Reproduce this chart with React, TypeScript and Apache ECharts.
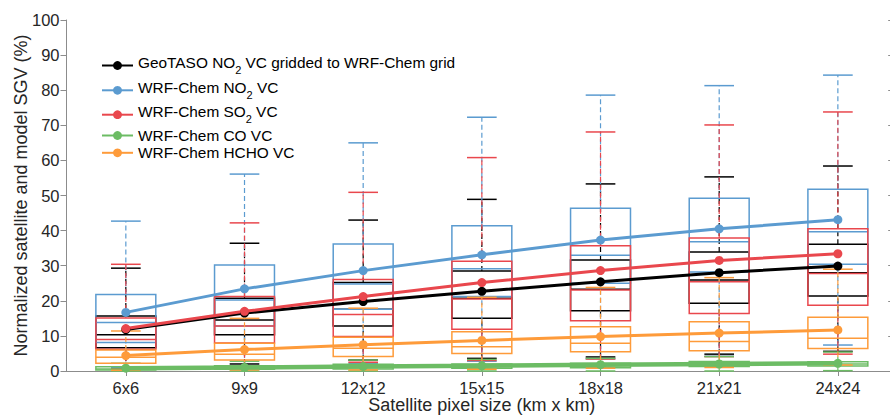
import { useEffect, useRef } from 'react';
import * as echarts from 'echarts';

const categories = ['6x6', '9x9', '12x12', '15x15', '18x18', '21x21', '24x24'];

// GeoTASO NO2 (black)
const geoLow = [0.5, 2.0, 3.1, 3.6, 4.0, 4.8, 5.6];
const geoQ1 = [6.6, 10.3, 12.8, 15.0, 17.2, 19.3, 21.4];
const geoMed = [10.3, 14.5, 17.6, 20.7, 23.3, 25.9, 28.0];
const geoQ3 = [15.7, 20.7, 25.2, 28.5, 31.6, 33.9, 36.1];
const geoHigh = [29.3, 36.4, 43.0, 48.9, 53.3, 55.3, 58.4];
const geoMean = [11.8, 16.5, 19.8, 22.7, 25.4, 28.0, 29.9];

// WRF-Chem NO2 (blue)
const no2Low = [1.0, 1.5, 2.2, 2.8, 3.5, 4.2, 7.4];
const no2Q1 = [8.1, 12.8, 17.6, 21.2, 25.0, 28.2, 30.4];
const no2Med = [13.8, 20.2, 24.8, 29.1, 33.0, 36.8, 39.7];
const no2Q3 = [21.8, 30.2, 36.2, 41.4, 46.4, 49.2, 51.8];
const no2High = [42.7, 56.1, 65.0, 72.3, 78.6, 81.3, 84.3];
const no2Mean = [16.7, 23.4, 28.6, 33.1, 37.3, 40.5, 43.1];

// WRF-Chem SO2 (red)
const so2Low = [0.6, 1.5, 2.5, 3.0, 3.4, 4.1, 4.8];
const so2Q1 = [6.2, 8.0, 9.8, 11.9, 14.3, 16.4, 18.7];
const so2Med = [9.0, 12.8, 16.1, 20.5, 23.1, 25.4, 27.8];
const so2Q3 = [15.1, 21.2, 26.1, 31.3, 35.7, 37.9, 40.5];
const so2High = [30.4, 42.2, 50.9, 60.8, 68.1, 70.1, 73.8];
const so2Mean = [12.1, 17.0, 21.2, 25.2, 28.6, 31.5, 33.4];

// WRF-Chem CO (green)
const coLow = [0, 0, 0, 0, 0, 0, 0.1];
const coQ1 = [0.3, 0.5, 0.6, 0.8, 0.9, 1.3, 1.4];
const coMed = [0.6, 0.9, 1.1, 1.3, 1.6, 1.9, 2.0];
const coQ3 = [1.2, 1.5, 1.9, 2.0, 2.2, 2.7, 2.6];
const coHigh = [2.2, 2.8, 3.1, 3.3, 3.6, 4.1, 5.4];
const coMean = [0.8, 1.0, 1.3, 1.5, 1.8, 2.0, 2.2];

// WRF-Chem HCHO (orange)
const hchoLow = [0.2, 0.3, 0.3, 0.5, 0.8, 1.0, 1.7];
const hchoQ1 = [2.2, 3.1, 4.1, 5.0, 5.5, 5.8, 6.4];
const hchoMed = [3.9, 4.8, 6.5, 6.9, 7.9, 8.4, 9.3];
const hchoQ3 = [6.0, 7.9, 9.6, 11.2, 12.6, 14.0, 15.3];
const hchoHigh = [11.4, 15.0, 17.9, 21.0, 23.8, 26.6, 29.0];
const hchoMean = [4.4, 6.1, 7.5, 8.7, 9.8, 10.8, 11.7];

const yTicks = [0, 10, 20, 30, 40, 50, 60, 70, 80, 90, 100];

const FONT = 'Liberation Sans, Arial, Helvetica, sans-serif';
const AXIS_GRAY = '#8c8c8c';
const TEXT = '#262626';

const seriesDefs = [
  { key: 'geo', name: 'GeoTASO NO2 VC gridded to WRF-Chem grid', rich: '{n|GeoTASO NO}{s|2}{n| VC gridded to WRF-Chem grid}', sub: true, color: '#000000', width: 3, low: geoLow, q1: geoQ1, med: geoMed, q3: geoQ3, high: geoHigh, mean: geoMean },
  { key: 'no2', name: 'WRF-Chem NO2 VC', rich: '{n|WRF-Chem NO}{s|2}{n| VC}', sub: true, color: '#5b9bd0', width: 3, low: no2Low, q1: no2Q1, med: no2Med, q3: no2Q3, high: no2High, mean: no2Mean },
  { key: 'so2', name: 'WRF-Chem SO2 VC', rich: '{n|WRF-Chem SO}{s|2}{n| VC}', sub: true, color: '#e9474d', width: 3, low: so2Low, q1: so2Q1, med: so2Med, q3: so2Q3, high: so2High, mean: so2Mean },
  { key: 'co', name: 'WRF-Chem CO VC', rich: '{n|WRF-Chem CO VC}', sub: false, color: '#6cbc64', width: 4.5, low: coLow, q1: coQ1, med: coMed, q3: coQ3, high: coHigh, mean: coMean },
  { key: 'hcho', name: 'WRF-Chem HCHO VC', rich: '{n|WRF-Chem HCHO VC}', sub: false, color: '#fe9b3a', width: 3, low: hchoLow, q1: hchoQ1, med: hchoMed, q3: hchoQ3, high: hchoHigh, mean: hchoMean },
];

const legendTops = [55, 79.8, 104.2, 128, 145.3];

function makeRenderItem(color: string) {
  return (_params: any, api: any) => {
    const i = api.value(0);
    const pLow = api.coord([i, api.value(1)]);
    const pQ1 = api.coord([i, api.value(2)]);
    const pMed = api.coord([i, api.value(3)]);
    const pQ3 = api.coord([i, api.value(4)]);
    const pHigh = api.coord([i, api.value(5)]);
    const band = api.size([1, 0])[0];
    const bw = band * 0.505;
    const cw = band * 0.25;
    const cx = pMed[0];
    const solid = { stroke: color, lineWidth: 1.5, fill: null };
    const dashed = { stroke: color, lineWidth: 1.2, lineDash: [5, 3], fill: null };
    return {
      type: 'group',
      children: [
        { type: 'line', shape: { x1: cx, y1: pQ3[1], x2: cx, y2: pHigh[1] }, style: dashed },
        { type: 'line', shape: { x1: cx, y1: pLow[1], x2: cx, y2: pQ1[1] }, style: dashed },
        { type: 'line', shape: { x1: cx - cw / 2, y1: pHigh[1], x2: cx + cw / 2, y2: pHigh[1] }, style: solid },
        { type: 'line', shape: { x1: cx - cw / 2, y1: pLow[1], x2: cx + cw / 2, y2: pLow[1] }, style: solid },
        { type: 'rect', shape: { x: cx - bw / 2, y: pQ3[1], width: bw, height: pQ1[1] - pQ3[1] }, style: { stroke: color, lineWidth: 1.5, fill: null } },
        { type: 'line', shape: { x1: cx - bw / 2, y1: pMed[1], x2: cx + bw / 2, y2: pMed[1] }, style: solid },
      ],
    };
  };
}

export default function App() {
  const ref = useRef<HTMLDivElement>(null);
  useEffect(() => {
    if (!ref.current) return;
    const chart = echarts.init(ref.current, undefined, { renderer: 'svg' });

    const boxSeries = seriesDefs.map((d) => ({
      type: 'custom',
      name: d.key + '-box',
      xAxisIndex: 0,
      yAxisIndex: 0,
      z: 2,
      silent: true,
      renderItem: makeRenderItem(d.color),
      encode: { x: 0, y: [1, 2, 3, 4, 5] },
      data: categories.map((_, i) => [i, d.low[i], d.q1[i], d.med[i], d.q3[i], d.high[i]]),
    }));

    const lineSeries = seriesDefs.map((d) => ({
      type: 'line',
      name: d.name,
      xAxisIndex: 0,
      yAxisIndex: 0,
      z: 5,
      data: d.mean,
      symbol: 'circle',
      symbolSize: 9,
      showSymbol: true,
      lineStyle: { width: d.width, color: d.color },
      itemStyle: { color: d.color },
    }));

    const legends = seriesDefs.map((d, k) => ({
      data: [d.name],
      left: 101,
      top: legendTops[k],
      padding: 0,
      itemWidth: 31,
      itemHeight: 11,
      selectedMode: false,
      formatter: () => d.rich,
      textStyle: {
        color: '#000',
        fontFamily: FONT,
        padding: d.sub ? [0, 0, 6, 0] : 0,
        rich: {
          n: { fontSize: 15.4, fontFamily: FONT, color: '#000', lineHeight: d.sub ? 26 : 18 },
          s: { fontSize: 11, fontFamily: FONT, color: '#000', lineHeight: 13, verticalAlign: 'bottom' },
        },
      },
    }));

    chart.setOption({
      animation: false,
      backgroundColor: '#ffffff',
      grid: { left: 66.5, top: 20, width: 830.7, height: 351, containLabel: false, outerBoundsMode: 'none' },
      legend: legends,
      xAxis: [
        {
          type: 'category',
          data: categories,
          position: 'bottom',
          boundaryGap: true,
          axisLine: { show: true, lineStyle: { color: AXIS_GRAY, width: 1 } },
          axisTick: { show: false },
          axisLabel: { fontSize: 16.5, fontFamily: FONT, color: TEXT, margin: 8 },
          name: 'Satellite pixel size (km x km)',
          nameLocation: 'middle',
          nameGap: 25,
          nameMoveOverlap: false,
          nameTextStyle: { fontSize: 18, fontFamily: FONT, color: TEXT },
          splitLine: { show: false },
        },
        {
          type: 'category',
          data: categories,
          position: 'top',
          boundaryGap: true,
          axisLine: { show: true, lineStyle: { color: AXIS_GRAY, width: 1 } },
          axisTick: { show: true, inside: true, length: 5, alignWithLabel: true, lineStyle: { color: AXIS_GRAY } },
          axisLabel: { show: false },
          splitLine: { show: false },
        },
      ],
      yAxis: [
        {
          type: 'value',
          min: yTicks[0],
          max: yTicks[yTicks.length - 1],
          interval: 10,
          position: 'left',
          axisLine: { show: true, lineStyle: { color: AXIS_GRAY, width: 1 } },
          axisTick: { show: true, inside: false, length: 6, lineStyle: { color: AXIS_GRAY } },
          axisLabel: { fontSize: 16.5, fontFamily: FONT, color: TEXT, margin: 7 },
          splitLine: { show: false },
          name: 'Normalized satellite and model SGV (%)',
          nameLocation: 'middle',
          nameGap: 37,
          nameMoveOverlap: false,
          nameTextStyle: { fontSize: 18, fontFamily: FONT, color: TEXT },
        },
        {
          type: 'value',
          min: yTicks[0],
          max: yTicks[yTicks.length - 1],
          interval: 10,
          position: 'right',
          axisLine: { show: true, lineStyle: { color: AXIS_GRAY, width: 1 } },
          axisTick: { show: true, inside: true, length: 9, lineStyle: { color: AXIS_GRAY } },
          axisLabel: { show: false },
          splitLine: { show: false },
        },
      ],
      series: [...boxSeries, ...lineSeries],
    });
    return () => chart.dispose();
  }, []);
  return <div ref={ref} style={{ position: 'absolute', left: 0, top: 0, width: 890, height: 418, background: '#fff' }} />;
}
